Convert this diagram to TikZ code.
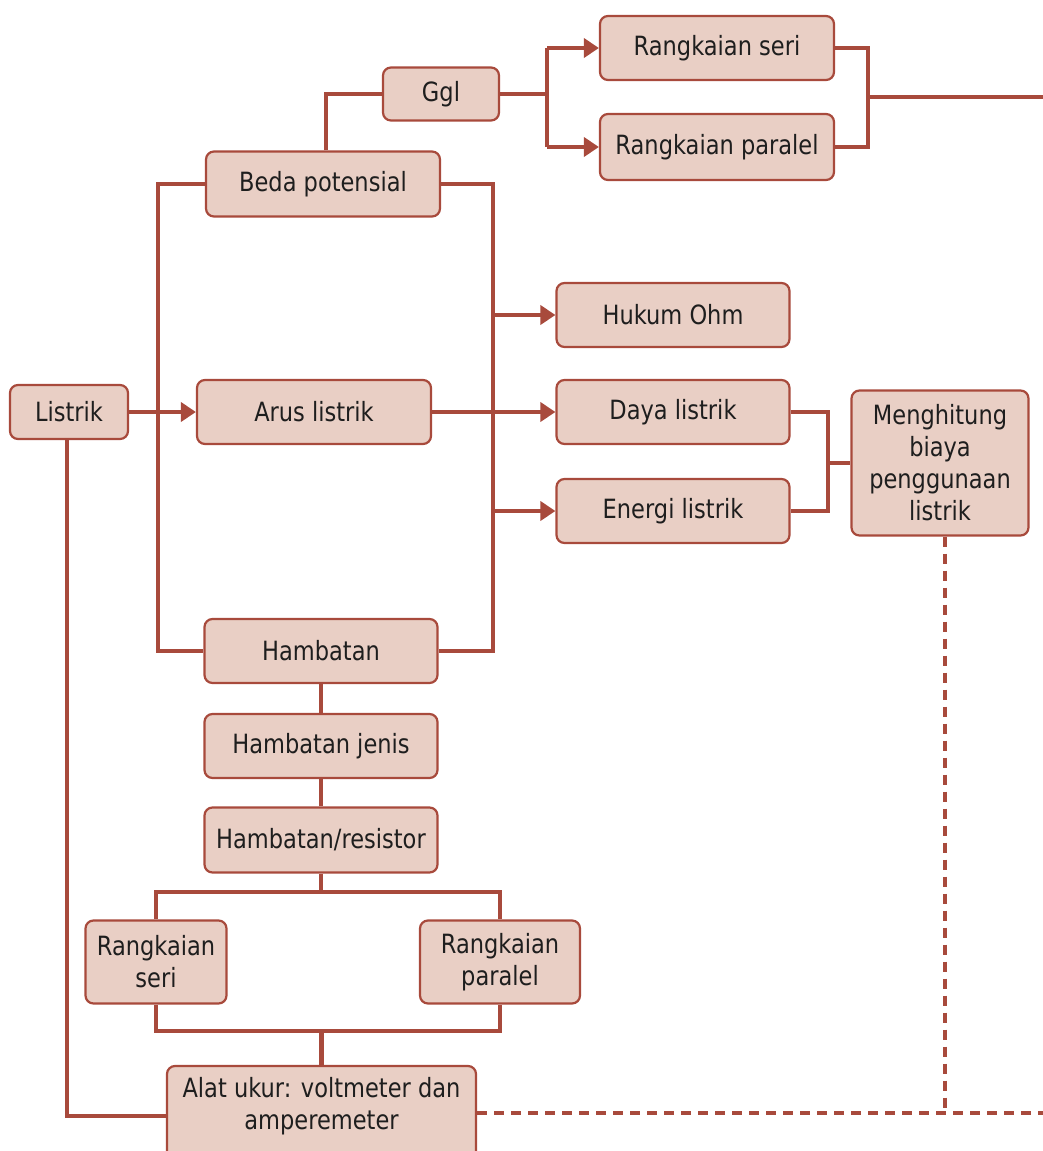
\documentclass[tikz,border=0pt]{standalone}
\usepackage{fontspec}
\setmainfont{DejaVu Sans}[FakeStretch=0.85]
\usetikzlibrary{arrows.meta}
\definecolor{lc}{RGB}{168,74,60}
\definecolor{fc}{RGB}{233,207,197}
\definecolor{tc}{RGB}{30,30,30}
\begin{document}
\begin{tikzpicture}[x=1pt,y=-1pt,
  txt/.style={text=tc,align=center,inner sep=0pt,font=\fontsize{26.5}{32}\selectfont},
  box/.style={txt,draw=lc,line width=2.2pt,fill=fc,rounded corners=8pt},
  conn/.style={draw=lc,line width=4.8pt},
  arr/.style={conn,-{Triangle[length=15pt,width=19pt]}},
  dotl/.style={draw=lc,line width=4.8pt,dash pattern=on 10pt off 7pt}]
\useasboundingbox (0,0) rectangle (1043,1151);
% nodes
\node[box,minimum width=118pt,minimum height=54pt] (listrik) at (69,412) {Listrik};
\node[box,minimum width=234pt,minimum height=64pt] (arus) at (314,412) {Arus listrik};
\node[box,minimum width=234pt,minimum height=65pt] (beda) at (323,184) {Beda potensial};
\node[box,minimum width=116pt,minimum height=53pt] (ggl) at (441,94) {Ggl};
\node[box,minimum width=234pt,minimum height=64pt] (seri1) at (717,48) {Rangkaian seri};
\node[box,minimum width=234pt,minimum height=66pt] (par1) at (717,147) {Rangkaian paralel};
\node[box,minimum width=233pt,minimum height=64pt] (ohm) at (673,315) {Hukum Ohm};
\node[box,minimum width=233pt,minimum height=64pt] (daya) at (673,412) {Daya listrik};
\node[box,minimum width=233pt,minimum height=64pt] (energi) at (673,511) {Energi listrik};
\node[box,minimum width=177pt,minimum height=145pt] (meng) at (940,463) {Menghitung\\biaya\\penggunaan\\listrik};
\node[box,minimum width=233pt,minimum height=64pt] (hamb) at (321,651) {Hambatan};
\node[box,minimum width=233pt,minimum height=64pt] (jenis) at (321,746) {Hambatan jenis};
\node[box,minimum width=233pt,minimum height=65pt] (resis) at (321,840) {Hambatan/resistor};
\node[box,minimum width=141pt,minimum height=83pt] (seri2) at (156,962) {Rangkaian\\seri};
\node[box,minimum width=160pt,minimum height=83pt] (par2) at (500,962) {Rangkaian\\paralel};
\node[box,minimum width=309pt,minimum height=94pt] (alat) at (321.5,1113) {};
\node[txt] (alattext) at (321.5,1106) {Alat ukur: voltmeter dan\\amperemeter};
% bus coordinates
\coordinate (busL) at (158,0);
\coordinate (busR) at (493,0);
\coordinate (busG) at (547,0);
\coordinate (busS) at (868,0);
\coordinate (busD) at (828,0);
\coordinate (busB) at (0,892);
\coordinate (busC) at (0,1031);
\coordinate (rightEnd) at (1043,97);
\coordinate (dotCorner) at (945,1113);
\coordinate (dotEnd) at (1043,1113);
% connectors
\draw[arr] (listrik.east) -- (arus.west);
\draw[conn] (beda.west) -- (beda.west -| busL) -- (hamb.west -| busL) -- (hamb.west);
\draw[conn] (beda.east) -- (beda.east -| busR) -- (hamb.east -| busR) -- (hamb.east);
\draw[arr] (ohm.west -| busR) -- (ohm.west);
\draw[arr] (arus.east) -- (daya.west);
\draw[arr] (energi.west -| busR) -- (energi.west);
\draw[conn] ([xshift=3pt]beda.north) |- (ggl.west);
\draw[conn] (ggl.east) -- (ggl.east -| busG);
\draw[conn] (seri1.west -| busG) -- (par1.west -| busG);
\draw[arr] (seri1.west -| busG) -- (seri1.west);
\draw[arr] (par1.west -| busG) -- (par1.west);
\draw[conn] (seri1.east) -- (seri1.east -| busS) -- (par1.east -| busS) -- (par1.east);
\draw[conn] (rightEnd -| busS) -- (rightEnd);
\draw[conn] (daya.east) -- (daya.east -| busD) -- (energi.east -| busD) -- (energi.east);
\draw[conn] (meng.west -| busD) -- (meng.west);
\draw[dotl] ([xshift=5pt]meng.south) -- (dotCorner);
\draw[dotl] (alat.east) -- (dotEnd);
\draw[conn] (hamb.south) -- (jenis.north);
\draw[conn] (jenis.south) -- (resis.north);
\draw[conn] (resis.south) -- (resis.south |- busB);
\draw[conn] (seri2.north) -- (seri2.north |- busB) -- (par2.north |- busB) -- (par2.north);
\draw[conn] (seri2.south) -- (seri2.south |- busC) -- (par2.south |- busC) -- (par2.south);
\draw[conn] (alat.north) -- (alat.north |- busC);
\draw[conn] ([xshift=-2pt]listrik.south) |- ([yshift=-3pt]alat.west);
\end{tikzpicture}
\end{document}
